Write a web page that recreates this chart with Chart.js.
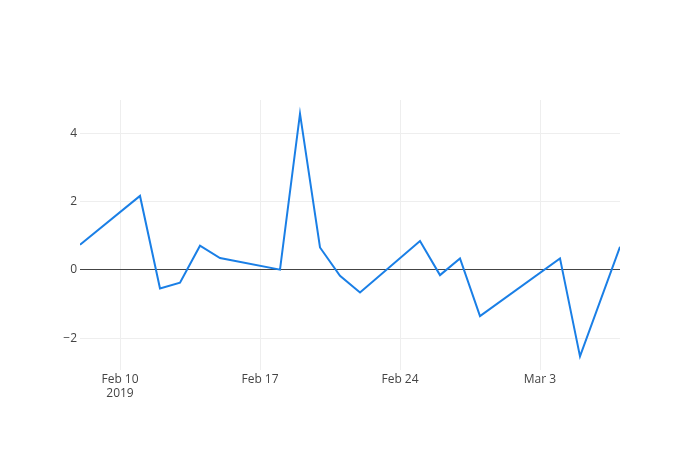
<!DOCTYPE html>
<html>
<head>
<meta charset="utf-8">
<script src="https://cdn.jsdelivr.net/npm/chart.js@4/dist/chart.umd.min.js"></script>
<style>
  html, body { margin: 0; padding: 0; background: #fff; }
  #wrap { width: 700px; height: 450px; }
</style>
</head>
<body>
<div id="wrap"><canvas id="chart"></canvas></div>
<script>
(function(){

    // data
    var dates = ["2019-02-08", "2019-02-11", "2019-02-12", "2019-02-13", "2019-02-14", "2019-02-15",
                 "2019-02-18", "2019-02-19", "2019-02-20", "2019-02-21", "2019-02-22", "2019-02-25",
                 "2019-02-26", "2019-02-27", "2019-02-28", "2019-03-04", "2019-03-05", "2019-03-07"];
    var values = [0.74, 2.17, -0.54, -0.37, 0.71, 0.35,
                  0.01, 4.58, 0.66, -0.17, -0.66, 0.85,
                  -0.15, 0.34, -1.35, 0.34, -2.53, 0.68];
    var xTickDates = ["2019-02-10", "2019-02-17", "2019-02-24", "2019-03-03"];
    var yTicks = [-2, 0, 2, 4];

    var MONTHS = ["Jan","Feb","Mar","Apr","May","Jun","Jul","Aug","Sep","Oct","Nov","Dec"];

    function _toMs(s){
        let p = s.split("-");
        return Date.UTC(+p[0], +p[1] - 1, +p[2]);
    }

    function _fmtDate(ms, first){
        let d = new Date(ms);
        let label = MONTHS[d.getUTCMonth()] + " " + d.getUTCDate();
        return first ? [label, String(d.getUTCFullYear())] : label;
    }

    var points = dates.map(function(d, i){ return {x: _toMs(d), y: values[i]}; });
    var xTicks = xTickDates.map(_toMs);

    Chart.defaults.font.family = '"Open Sans", "Noto Sans", sans-serif';
    Chart.defaults.font.size = 12;
    Chart.defaults.color = '#444';

    new Chart(document.getElementById('chart').getContext('2d'), {
        type: 'line',
        data: {
            datasets: [{
                data: points,
                borderColor: '#1a7fe6',
                borderWidth: 2,
                pointRadius: 0,
                tension: 0,
                fill: false
            }]
        },
        options: {
            responsive: true,
            maintainAspectRatio: false,
            animation: false,
            layout: { padding: { top: 100, right: 80, left: 0, bottom: 0 } },
            plugins: { legend: { display: false }, tooltip: { enabled: false } },
            scales: {
                x: {
                    type: 'linear',
                    min: _toMs(dates[0]),
                    max: _toMs(dates[dates.length - 1]),
                    afterFit: function(scale){ scale.height = 80; },
                    afterBuildTicks: function(scale){
                        scale.ticks = xTicks.map(function(v){ return {value: v}; });
                    },
                    ticks: {
                        padding: 2,
                        maxRotation: 0,
                        autoSkip: false,
                        callback: function(v, i){ return _fmtDate(v, i === 0); }
                    },
                    grid: { color: '#eee', drawTicks: false },
                    border: { display: false }
                },
                y: {
                    min: -2.93,
                    max: 4.98,
                    afterFit: function(scale){ scale.width = 80; },
                    afterBuildTicks: function(scale){
                        scale.ticks = yTicks.map(function(v){ return {value: v}; });
                    },
                    ticks: {
                        padding: 3,
                        callback: function(v){ return v < 0 ? '\u2212' + Math.abs(v) : String(v); }
                    },
                    grid: {
                        drawTicks: false,
                        color: function(ctx){ return ctx.tick && ctx.tick.value === 0 ? '#444' : '#eee'; },
                        lineWidth: 1
                    },
                    border: { display: false }
                }
            }
        }
    });

})();
</script>
</body>
</html>
